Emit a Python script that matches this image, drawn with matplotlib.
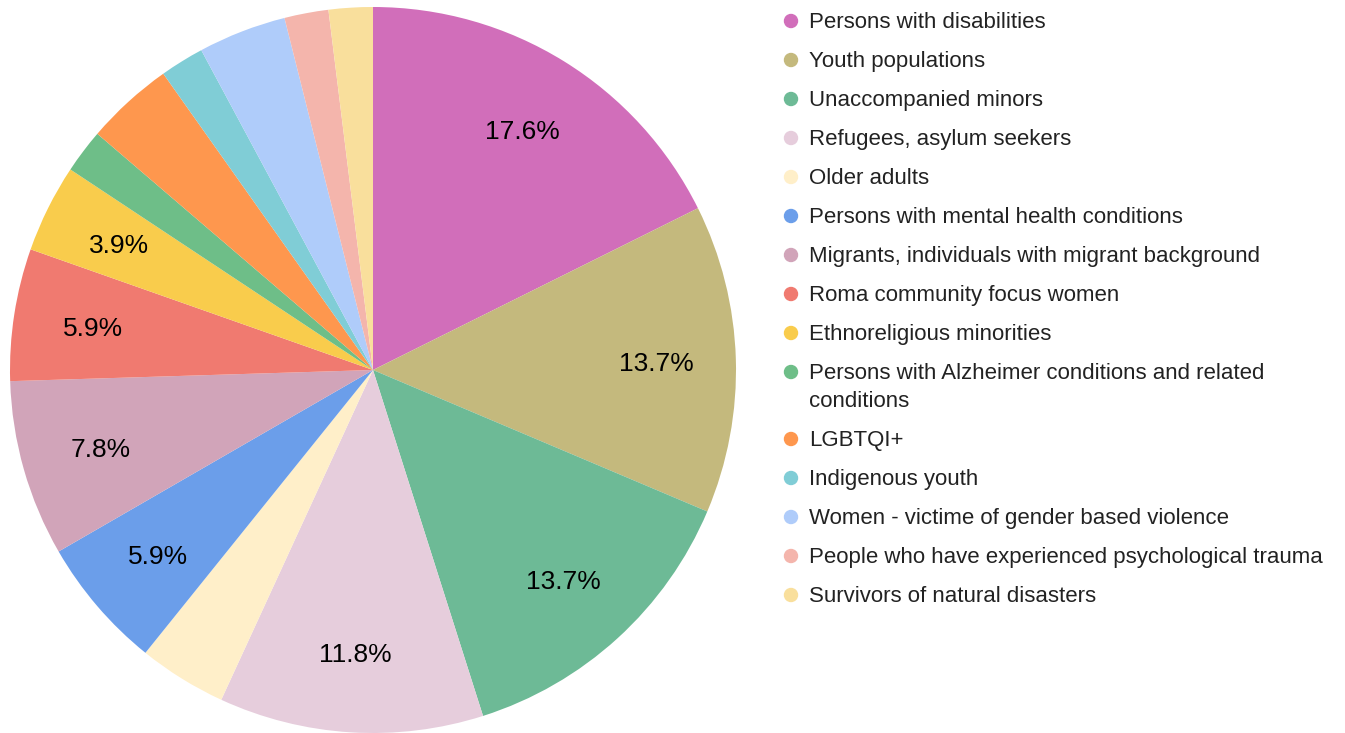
"""Pie chart of target groups, Google-Sheets style."""
import matplotlib
matplotlib.use('Agg')
import matplotlib.pyplot as plt
from matplotlib.patches import Ellipse

plt.rcParams['font.family'] = ['Liberation Sans', 'DejaVu Sans']

groups = ['Persons with disabilities',
          'Youth populations',
          'Unaccompanied minors',
          'Refugees, asylum seekers',
          'Older adults',
          'Persons with mental health conditions',
          'Migrants, individuals with migrant background',
          'Roma community focus women',
          'Ethnoreligious minorities',
          'Persons with Alzheimer conditions and related\nconditions',
          'LGBTQI+',
          'Indigenous youth',
          'Women - victime of gender based violence',
          'People who have experienced psychological trauma',
          'Survivors of natural disasters']
counts = [9, 7, 7, 6, 2, 3, 4, 3, 2, 1, 2, 1, 2, 1, 1]
colors = ['#D16EBA', '#C4B97D', '#6DBA96', '#E6CDDC', '#FFEFC9',
          '#6B9EEA', '#D1A4B9', '#F07A70', '#F9CC4C', '#6EBE88',
          '#FE974E', '#80CDD6', '#AFCCFA', '#F4B5AC', '#F9DF9C']
# slices whose percentage is printed on the chart
shown = [0, 1, 2, 3, 5, 6, 7, 8]

W, H = 1345, 733
fig = plt.figure(figsize=(W / 100, H / 100), dpi=100)

cx, cy, r = 373, 370, 363
ax = fig.add_axes([(cx - r) / W, (H - cy - r) / H, 2 * r / W, 2 * r / H])
wedges, texts, autotexts = ax.pie(counts, colors=colors, startangle=90,
                                  counterclock=False, autopct='%1.1f%%',
                                  pctdistance=0.78,
                                  wedgeprops=dict(linewidth=0),
                                  textprops=dict(fontsize=19, color='black'))
for i, t in enumerate(autotexts):
    t.set_va('center_baseline')
    if i not in shown:
        t.set_visible(False)
ax.set_xlim(-1, 1)
ax.set_ylim(-1, 1)
ax.set_aspect('equal')

# legend drawn by hand to match row spacing
y = 21
for name, col in zip(groups, colors):
    fig.add_artist(Ellipse((791 / W, 1 - y / H), 13 / W, 13 / H,
                           transform=fig.transFigure, color=col))
    for k, line in enumerate(name.split('\n')):
        fig.text(809 / W, 1 - (y + 7 + 28 * k) / H, line, fontsize=16,
                 color='#222222', va='baseline')
    y += 39 + 28 * name.count('\n')

fig.savefig('out.png', dpi=100)
